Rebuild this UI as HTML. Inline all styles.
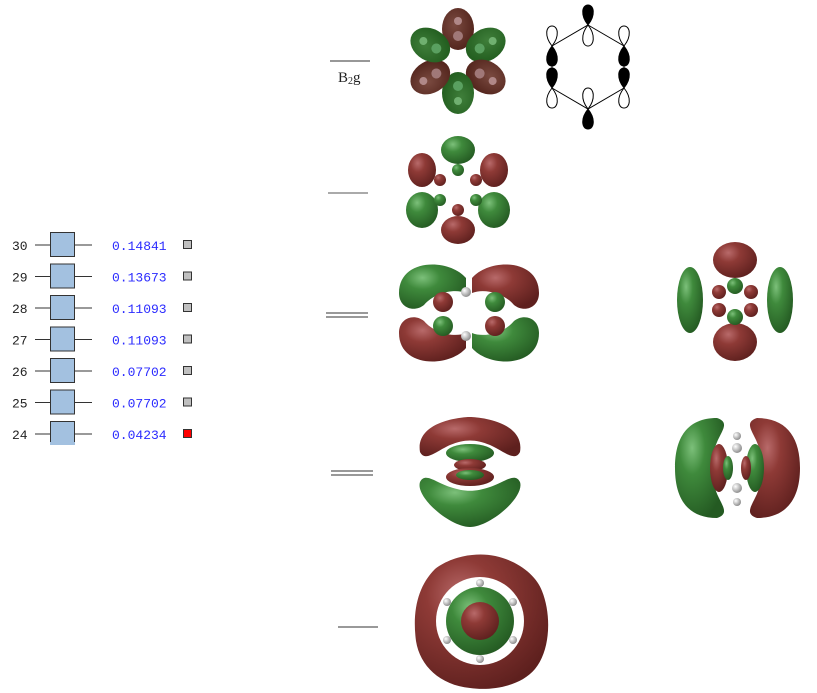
<!DOCTYPE html>
<html><head><meta charset="utf-8"><style>
html,body{margin:0;padding:0;background:#fff;width:817px;height:693px;overflow:hidden}
svg{display:block}
.n{font-family:"Liberation Mono",monospace;font-size:13px;fill:#222}
.v{font-family:"Liberation Mono",monospace;font-size:13px;fill:#2b2bff}
</style></head><body>
<svg width="817" height="693" viewBox="0 0 817 693" xmlns="http://www.w3.org/2000/svg">
<defs>
<radialGradient id="r" cx="35%" cy="30%" r="75%"><stop offset="0" stop-color="#b86a6a"/><stop offset=".35" stop-color="#8e3a36"/><stop offset="1" stop-color="#5e201e"/></radialGradient>
<radialGradient id="g" cx="35%" cy="30%" r="75%"><stop offset="0" stop-color="#7cc07a"/><stop offset=".35" stop-color="#3f8a3c"/><stop offset="1" stop-color="#245a22"/></radialGradient>
<radialGradient id="r2" cx="40%" cy="40%" r="70%"><stop offset="0" stop-color="#7a4a40"/><stop offset="1" stop-color="#4e2018"/></radialGradient>
<radialGradient id="g2" cx="40%" cy="40%" r="70%"><stop offset="0" stop-color="#3f7e3a"/><stop offset="1" stop-color="#1f5a1c"/></radialGradient>
<radialGradient id="h" cx="35%" cy="35%" r="70%"><stop offset="0" stop-color="#fff"/><stop offset="1" stop-color="#888"/></radialGradient>
</defs>

<!-- left list -->
<g>
<g transform="translate(0,245)"><text x="12" y="5" class="n">30</text><line x1="35" y1="0" x2="92" y2="0" stroke="#333"/><rect x="50.5" y="-12.5" width="24" height="24" fill="#a3c1e0" stroke="#333"/><text x="112" y="5" class="v">0.14841</text><rect x="183.5" y="-4.5" width="8" height="8" fill="#c0c0c0" stroke="#333"/></g>
<g transform="translate(0,276.5)"><text x="12" y="5" class="n">29</text><line x1="35" y1="0" x2="92" y2="0" stroke="#333"/><rect x="50.5" y="-12.5" width="24" height="24" fill="#a3c1e0" stroke="#333"/><text x="112" y="5" class="v">0.13673</text><rect x="183.5" y="-4.5" width="8" height="8" fill="#c0c0c0" stroke="#333"/></g>
<g transform="translate(0,308)"><text x="12" y="5" class="n">28</text><line x1="35" y1="0" x2="92" y2="0" stroke="#333"/><rect x="50.5" y="-12.5" width="24" height="24" fill="#a3c1e0" stroke="#333"/><text x="112" y="5" class="v">0.11093</text><rect x="183.5" y="-4.5" width="8" height="8" fill="#c0c0c0" stroke="#333"/></g>
<g transform="translate(0,339.5)"><text x="12" y="5" class="n">27</text><line x1="35" y1="0" x2="92" y2="0" stroke="#333"/><rect x="50.5" y="-12.5" width="24" height="24" fill="#a3c1e0" stroke="#333"/><text x="112" y="5" class="v">0.11093</text><rect x="183.5" y="-4.5" width="8" height="8" fill="#c0c0c0" stroke="#333"/></g>
<g transform="translate(0,371)"><text x="12" y="5" class="n">26</text><line x1="35" y1="0" x2="92" y2="0" stroke="#333"/><rect x="50.5" y="-12.5" width="24" height="24" fill="#a3c1e0" stroke="#333"/><text x="112" y="5" class="v">0.07702</text><rect x="183.5" y="-4.5" width="8" height="8" fill="#c0c0c0" stroke="#333"/></g>
<g transform="translate(0,402.5)"><text x="12" y="5" class="n">25</text><line x1="35" y1="0" x2="92" y2="0" stroke="#333"/><rect x="50.5" y="-12.5" width="24" height="24" fill="#a3c1e0" stroke="#333"/><text x="112" y="5" class="v">0.07702</text><rect x="183.5" y="-4.5" width="8" height="8" fill="#c0c0c0" stroke="#333"/></g>
<g transform="translate(0,434)"><text x="12" y="5" class="n">24</text><line x1="35" y1="0" x2="92" y2="0" stroke="#333"/><path d="M50.5 8 V-12.5 H74.5 V8" fill="#a3c1e0" stroke="#333"/><rect x="50" y="8" width="25" height="3" fill="#a3c1e0"/><text x="112" y="5" class="v">0.04234</text><rect x="183.5" y="-4.5" width="8" height="8" fill="#f00" stroke="#333"/></g>
</g>

<!-- level lines -->
<line x1="330" y1="61" x2="370" y2="61" stroke="#777" stroke-width="1.5"/>
<text x="338" y="82" font-family="Liberation Serif,serif" font-size="15" fill="#222">B<tspan font-size="10" dy="2">2</tspan><tspan dy="-2">g</tspan></text>
<line x1="328" y1="193" x2="368" y2="193" stroke="#555" stroke-width="1"/>
<line x1="326" y1="313" x2="368" y2="313" stroke="#333" stroke-width="1"/>
<line x1="326" y1="317" x2="368" y2="317" stroke="#333" stroke-width="1"/>
<line x1="331" y1="471" x2="373" y2="471" stroke="#333" stroke-width="1"/>
<line x1="331" y1="475" x2="373" y2="475" stroke="#333" stroke-width="1"/>
<line x1="338" y1="627" x2="378" y2="627" stroke="#333" stroke-width="1"/>

<!-- orbital 1 -->
<g transform="translate(458,61)">
<g transform="rotate(0)"><ellipse cx="0" cy="-32" rx="16" ry="21" fill="url(#r2)"/><circle cx="0" cy="-25" r="5" fill="#a07878"/><circle cx="0" cy="-40" r="4" fill="#b08888"/></g>
<g transform="rotate(60)"><ellipse cx="0" cy="-32" rx="16" ry="21" fill="url(#g2)"/><circle cx="0" cy="-25" r="5" fill="#5aa060"/><circle cx="0" cy="-40" r="4" fill="#70b070"/></g>
<g transform="rotate(120)"><ellipse cx="0" cy="-32" rx="16" ry="21" fill="url(#r2)"/><circle cx="0" cy="-25" r="5" fill="#a07878"/><circle cx="0" cy="-40" r="4" fill="#b08888"/></g>
<g transform="rotate(180)"><ellipse cx="0" cy="-32" rx="16" ry="21" fill="url(#g2)"/><circle cx="0" cy="-25" r="5" fill="#5aa060"/><circle cx="0" cy="-40" r="4" fill="#70b070"/></g>
<g transform="rotate(240)"><ellipse cx="0" cy="-32" rx="16" ry="21" fill="url(#r2)"/><circle cx="0" cy="-25" r="5" fill="#a07878"/><circle cx="0" cy="-40" r="4" fill="#b08888"/></g>
<g transform="rotate(300)"><ellipse cx="0" cy="-32" rx="16" ry="21" fill="url(#g2)"/><circle cx="0" cy="-25" r="5" fill="#5aa060"/><circle cx="0" cy="-40" r="4" fill="#70b070"/></g>
</g>

<!-- hexagon p-orbital diagram -->
<g stroke="#000" stroke-width="1" fill="none">
<polygon points="588,25 624,46 624,88 588,109 552,88 552,46"/>
</g>
<g stroke="#000" stroke-width="1">
<path d="M588,25 C580,15 582,5 588,5 C594,5 596,15 588,25Z" fill="#000"/><path d="M588,25 C580,35 582,46 588,46 C594,46 596,35 588,25Z" fill="#fff"/>
<path d="M624,46 C616,36 618,26 624,26 C630,26 632,36 624,46Z" fill="#fff"/><path d="M624,46 C616,56 618,66 624,66 C630,66 632,56 624,46Z" fill="#000"/>
<path d="M624,88 C616,78 618,68 624,68 C630,68 632,78 624,88Z" fill="#000"/><path d="M624,88 C616,98 618,108 624,108 C630,108 632,98 624,88Z" fill="#fff"/>
<path d="M552,46 C544,36 546,26 552,26 C558,26 560,36 552,46Z" fill="#fff"/><path d="M552,46 C544,56 546,66 552,66 C558,66 560,56 552,46Z" fill="#000"/>
<path d="M552,88 C544,78 546,68 552,68 C558,68 560,78 552,88Z" fill="#000"/><path d="M552,88 C544,98 546,108 552,108 C558,108 560,98 552,88Z" fill="#fff"/>
<path d="M588,109 C580,99 582,88 588,88 C594,88 596,99 588,109Z" fill="#fff"/><path d="M588,109 C580,119 582,129 588,129 C594,129 596,119 588,109Z" fill="#000"/>
</g>

<!-- orbital 2 -->
<g transform="translate(458,190)">
<ellipse cx="0" cy="-40" rx="17" ry="14" fill="url(#g)"/>
<ellipse cx="-36" cy="-20" rx="14" ry="17" fill="url(#r)"/>
<ellipse cx="36" cy="-20" rx="14" ry="17" fill="url(#r)"/>
<ellipse cx="-36" cy="20" rx="16" ry="18" fill="url(#g)"/>
<ellipse cx="36" cy="20" rx="16" ry="18" fill="url(#g)"/>
<ellipse cx="0" cy="40" rx="17" ry="14" fill="url(#r)"/>
<circle cx="0" cy="-20" r="6" fill="url(#g)"/><circle cx="-18" cy="-10" r="6" fill="url(#r)"/><circle cx="18" cy="-10" r="6" fill="url(#r)"/>
<circle cx="-18" cy="10" r="6" fill="url(#g)"/><circle cx="18" cy="10" r="6" fill="url(#g)"/><circle cx="0" cy="20" r="6" fill="url(#r)"/>
</g>

<!-- orbital 3 -->
<g transform="translate(469,313)">
<path d="M-3,-35 C-20,-55 -70,-55 -70,-20 C-70,-5 -55,0 -45,-8 C-35,-20 -15,-25 -3,-20Z" fill="url(#g)"/>
<path d="M3,-35 C20,-55 70,-55 70,-20 C70,-5 55,0 45,-8 C35,-20 15,-25 3,-20Z" fill="url(#r)"/>
<path d="M-3,35 C-20,55 -70,55 -70,20 C-70,5 -55,0 -45,8 C-35,20 -15,25 -3,20Z" fill="url(#r)"/>
<path d="M3,35 C20,55 70,55 70,20 C70,5 55,0 45,8 C35,20 15,25 3,20Z" fill="url(#g)"/>
<circle cx="-26" cy="-11" r="10" fill="url(#r)"/><circle cx="26" cy="-11" r="10" fill="url(#g)"/>
<circle cx="-26" cy="13" r="10" fill="url(#g)"/><circle cx="26" cy="13" r="10" fill="url(#r)"/>
<circle cx="-3" cy="-21" r="5" fill="url(#h)"/><circle cx="-3" cy="23" r="5" fill="url(#h)"/>
</g>

<!-- orbital 4 -->
<g transform="translate(735,300)">
<ellipse cx="0" cy="-40" rx="22" ry="18" fill="url(#r)"/>
<ellipse cx="0" cy="42" rx="22" ry="19" fill="url(#r)"/>
<ellipse cx="-45" cy="0" rx="13" ry="33" fill="url(#g)"/>
<ellipse cx="45" cy="0" rx="13" ry="33" fill="url(#g)"/>
<circle cx="0" cy="-14" r="8" fill="url(#g)"/><circle cx="0" cy="17" r="8" fill="url(#g)"/>
<circle cx="-16" cy="-8" r="7" fill="url(#r)"/><circle cx="16" cy="-8" r="7" fill="url(#r)"/>
<circle cx="-16" cy="10" r="7" fill="url(#r)"/><circle cx="16" cy="10" r="7" fill="url(#r)"/>
</g>

<!-- orbital 5 -->
<g transform="translate(470,467)">
<path d="M-50,-15 C-55,-45 -10,-50 0,-50 C10,-50 55,-45 50,-15 C45,-5 35,-15 20,-22 C5,-28 -5,-28 -20,-22 C-35,-15 -45,-5 -50,-15Z" fill="url(#r)"/>
<path d="M-50,15 C-55,30 -20,60 0,60 C20,60 55,30 50,15 C45,5 35,15 20,20 C5,25 -5,25 -20,20 C-35,15 -45,5 -50,15Z" fill="url(#g)"/>
<ellipse cx="0" cy="-14" rx="24" ry="9" fill="url(#g)"/>
<ellipse cx="0" cy="-2" rx="16" ry="6" fill="url(#r)"/>
<ellipse cx="0" cy="10" rx="24" ry="9" fill="url(#r)"/>
<ellipse cx="0" cy="8" rx="14" ry="5" fill="url(#g)"/>
</g>

<!-- orbital 6 -->
<g transform="translate(737,468)">
<path d="M-20,-50 C-50,-50 -62,-30 -62,0 C-62,30 -50,50 -20,50 C-5,45 -18,35 -22,20 C-26,5 -26,-5 -22,-20 C-18,-35 -5,-45 -20,-50Z" fill="url(#g)"/>
<path d="M20,-50 C50,-50 63,-30 63,0 C63,30 50,50 20,50 C5,45 18,35 22,20 C26,5 26,-5 22,-20 C18,-35 5,-45 20,-50Z" fill="url(#r)"/>
<ellipse cx="-18" cy="0" rx="9" ry="24" fill="url(#r)"/><ellipse cx="18" cy="0" rx="9" ry="24" fill="url(#g)"/>
<ellipse cx="-9" cy="0" rx="5" ry="12" fill="url(#g)"/><ellipse cx="9" cy="0" rx="5" ry="12" fill="url(#r)"/>
<circle cx="0" cy="-20" r="5" fill="url(#h)"/><circle cx="0" cy="20" r="5" fill="url(#h)"/>
<circle cx="0" cy="-32" r="4" fill="url(#h)"/><circle cx="0" cy="34" r="4" fill="url(#h)"/>
</g>

<!-- orbital 7 -->
<g transform="translate(480,621)">
<path d="M-8,-66 C25,-70 55,-50 62,-30 C72,-5 70,30 55,48 C40,66 10,70 -10,67 C-40,64 -60,45 -64,20 C-68,-10 -62,-35 -45,-52 C-35,-60 -20,-65 -8,-66Z" fill="url(#r)"/>
<circle cx="0" cy="0" r="44" fill="#fff"/>
<circle cx="0" cy="0" r="34" fill="url(#g)"/>
<circle cx="0" cy="0" r="19" fill="url(#r)"/>
<g fill="url(#h)"><circle cx="0" cy="-38" r="4"/><circle cx="33" cy="-19" r="4"/><circle cx="33" cy="19" r="4"/><circle cx="0" cy="38" r="4"/><circle cx="-33" cy="19" r="4"/><circle cx="-33" cy="-19" r="4"/></g>
</g>
</svg>
</body></html>
